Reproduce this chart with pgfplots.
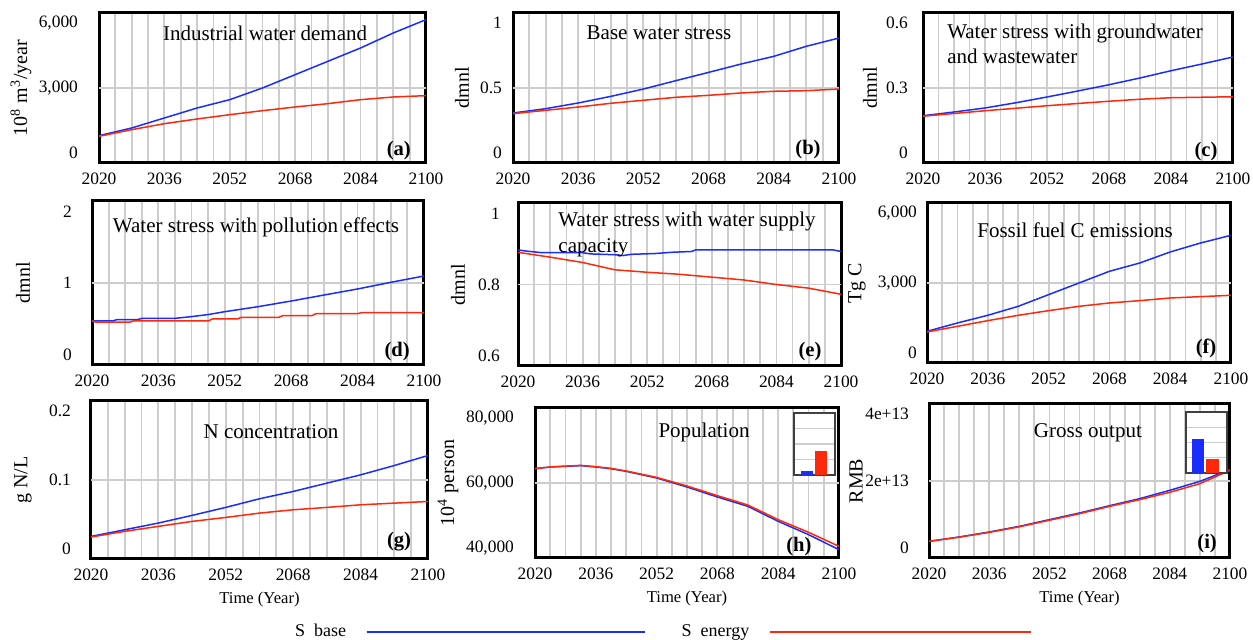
\documentclass[border=0pt]{standalone}
\usepackage{pgfplots}
\pgfplotsset{compat=1.18}
\usepackage{fontspec}
\setmainfont{Liberation Serif}

\definecolor{sbase}{RGB}{25,45,255}
\definecolor{senergy}{RGB}{255,40,10}
\definecolor{gridc}{RGB}{205,205,205}

\tikzset{
  ttl/.style={font=\fontsize{10.5}{12.6}\selectfont, inner sep=0pt},
  lett/.style={font=\bfseries\fontsize{10.3}{12}\selectfont, inner sep=0pt},
}

\pgfplotsset{
  panel/.style={
    scale only axis,
    axis line style={line width=1.5pt},
    xmin=2020, xmax=2100,
    xtick={2020,2036,2052,2068,2084,2100},
    xticklabels={2020,2036,2052,2068,2084,2100},
    minor xtick={2024,2028,...,2096},
    xmajorgrids, xminorgrids,
    major grid style={gridc, line width=0.9pt},
    minor grid style={gridc, line width=0.9pt},
    major tick length=0pt, minor tick length=0pt,
    scaled y ticks=false,
    tick label style={font=\fontsize{8.7}{10}\selectfont},
    xticklabel style={yshift=-1.5pt},
    y label style={font=\fontsize{10}{12}\selectfont, anchor=center, at={(axis description cs:0,0.5)}},
    x label style={font=\fontsize{8.3}{10}\selectfont, at={(axis description cs:0.5,0)}, anchor=north, yshift=-13pt},
    extra y tick labels={},
    extra y tick style={grid=major},
  },
  sb/.style={sbase, line width=0.75pt},
  se/.style={senergy, line width=0.75pt},
  lgb/.style={legend image code/.code={\draw[##1] (0pt,0pt) -- (139pt,0pt);}},
  lge/.style={legend image code/.code={\draw[##1] (0pt,0pt) -- (130.5pt,0pt);}},
  inset/.style={
    scale only axis,
    xmin=0, xmax=1, ymin=0, ymax=4,
    xtick=\empty, ytick={1,2,3}, yticklabels={},
    ymajorgrids, major grid style={gridc, line width=0.6pt},
    major tick length=0pt,
    axis line style={line width=0.6pt, black!75},
    axis background/.style={fill=white},
  },
}

\begin{document}
\begin{tikzpicture}
\path[use as bounding box] (0,0) rectangle (626.5pt,320pt);

% (a)
\begin{axis}[panel, at={(49.5pt,238.5pt)}, anchor=south west, width=163.5pt, height=75pt,
  ymin=0, ymax=6000, ytick={390,3000,5610}, yticklabels={0,{3,000},{6,000}},
  extra y ticks={3000}, yticklabel style={xshift=-7pt},
  ylabel={10\textsuperscript{8} m\textsuperscript{3}/year},
  y label style={yshift=39pt}]
\addplot[sb] coordinates {(2020,1093)(2028,1400)(2036,1800)(2044,2200)(2052,2533)(2060,3000)(2068,3533)(2076,4067)(2084,4600)(2092,5200)(2100,5733)};
\addplot[se] coordinates {(2020,1067)(2028,1333)(2036,1573)(2044,1760)(2052,1933)(2060,2093)(2068,2240)(2076,2373)(2084,2533)(2092,2640)(2100,2693)};
\node[ttl] at (rel axis cs:0.508,0.867) {Industrial water demand};
\node[lett] at (rel axis cs:0.917,0.08) {(a)};
\end{axis}

% (b)
\begin{axis}[panel, at={(256.5pt,238.5pt)}, anchor=south west, width=163pt, height=75pt,
  ymin=0, ymax=1, ytick={0.065,0.5,0.935}, yticklabels={0,0.5,1},
  extra y ticks={0.5}, yticklabel style={xshift=-2pt},
  ylabel={dmnl},
  y label style={yshift=25.5pt}]
\addplot[sb] coordinates {(2020,0.333)(2028,0.362)(2036,0.400)(2044,0.444)(2052,0.493)(2060,0.549)(2068,0.604)(2076,0.660)(2084,0.711)(2092,0.778)(2100,0.833)};
\addplot[se] coordinates {(2020,0.329)(2028,0.351)(2036,0.373)(2044,0.398)(2052,0.418)(2060,0.438)(2068,0.451)(2076,0.467)(2084,0.478)(2092,0.482)(2100,0.493)};
\node[ttl] at (rel axis cs:0.448,0.867) {Base water stress};
\node[lett] at (rel axis cs:0.905,0.087) {(b)};
\end{axis}

% (c)
\begin{axis}[panel, at={(461.5pt,238.5pt)}, anchor=south west, width=155pt, height=75pt,
  ymin=0, ymax=0.6, ytick={0.039,0.3,0.561}, yticklabels={0,0.3,0.6},
  extra y ticks={0.3}, yticklabel style={xshift=-4pt},
  ylabel={dmnl},
  y label style={yshift=26.5pt}]
\addplot[sb] coordinates {(2020,0.189)(2028,0.204)(2036,0.220)(2044,0.241)(2052,0.264)(2060,0.288)(2068,0.313)(2076,0.340)(2084,0.369)(2092,0.396)(2100,0.424)};
\addplot[se] coordinates {(2020,0.187)(2028,0.198)(2036,0.209)(2044,0.219)(2052,0.229)(2060,0.238)(2068,0.247)(2076,0.255)(2084,0.261)(2092,0.263)(2100,0.265)};
\node[ttl, anchor=north west, align=left] at (rel axis cs:0.077,0.93) {Water stress with groundwater\\and wastewater};
\node[lett] at (rel axis cs:0.913,0.073) {(c)};
\end{axis}

% (d)
\begin{axis}[panel, at={(46pt,137.5pt)}, anchor=south west, width=166pt, height=82pt,
  ymin=0, ymax=2, ytick={0.13,1,1.87}, yticklabels={0,1,2},
  extra y ticks={1}, yticklabel style={xshift=-6.5pt},
  ylabel={dmnl},
  y label style={yshift=34.5pt}]
\addplot[sb] coordinates {(2020,0.537)(2025,0.537)(2026,0.553)(2031,0.553)(2032,0.569)(2040,0.569)(2044,0.590)(2048,0.615)(2052,0.650)(2060,0.711)(2068,0.780)(2076,0.854)(2084,0.927)(2092,1.008)(2100,1.085)};
\addplot[se] coordinates {(2020,0.537)(2021,0.522)(2029,0.522)(2030,0.537)(2048,0.537)(2049,0.561)(2055,0.561)(2056,0.581)(2065,0.581)(2066,0.602)(2073,0.602)(2074,0.626)(2084,0.626)(2085,0.638)(2100,0.638)};
\node[ttl] at (rel axis cs:0.494,0.841) {Water stress with pollution effects};
\node[lett] at (rel axis cs:0.919,0.079) {(d)};
\end{axis}

% (e)
\begin{axis}[panel, at={(259pt,137pt)}, anchor=south west, width=161.5pt, height=81.5pt,
  ymin=0.6, ymax=1, ytick={0.626,0.8,0.974}, yticklabels={0.6,0.8,1},
  extra y ticks={0.8}, yticklabel style={xshift=-5.5pt},
  ylabel={dmnl},
  y label style={yshift=30pt}]
\addplot[sb] coordinates {(2020,0.885)(2022,0.882)(2026,0.878)(2036,0.878)(2038,0.875)(2044,0.873)(2046,0.871)(2048,0.874)(2054,0.876)(2058,0.879)(2063,0.881)(2064,0.885)(2098,0.885)(2100,0.881)};
\addplot[se] coordinates {(2020,0.879)(2028,0.867)(2036,0.854)(2044,0.836)(2052,0.830)(2060,0.825)(2068,0.818)(2076,0.811)(2084,0.800)(2092,0.791)(2100,0.776)};
\node[ttl, anchor=north west, align=left] at (rel axis cs:0.124,0.945) {Water stress with water supply\\capacity};
\node[lett] at (rel axis cs:0.904,0.086) {(e)};
\end{axis}

% (f)
\begin{axis}[panel, at={(463.5pt,138.5pt)}, anchor=south west, width=152pt, height=80pt,
  ymin=0, ymax=6000, ytick={390,3000,5610}, yticklabels={0,{3,000},{6,000}},
  extra y ticks={3000}, yticklabel style={xshift=-1.5pt},
  ylabel={Tg C},
  y label style={yshift=35pt}]
\addplot[sb] coordinates {(2020,1188)(2028,1500)(2036,1788)(2044,2125)(2052,2563)(2060,3000)(2068,3438)(2076,3750)(2084,4163)(2092,4500)(2100,4788)};
\addplot[se] coordinates {(2020,1163)(2028,1375)(2036,1588)(2044,1788)(2052,1963)(2060,2125)(2068,2250)(2076,2338)(2084,2438)(2092,2488)(2100,2538)};
\node[ttl] at (rel axis cs:0.487,0.831) {Fossil fuel C emissions};
\node[lett] at (rel axis cs:0.918,0.094) {(f)};
\end{axis}

% (g)
\begin{axis}[panel, at={(45.5pt,40.5pt)}, anchor=south west, width=168.5pt, height=79pt,
  ymin=0, ymax=0.2, ytick={0.013,0.1,0.187}, yticklabels={0,0.1,0.2},
  extra y ticks={0.1}, yticklabel style={xshift=-6.5pt},
  xlabel={Time (Year)},
  ylabel={g N/L},
  y label style={yshift=34pt}]
\addplot[sb] coordinates {(2020,0.0286)(2028,0.0370)(2036,0.0455)(2044,0.0552)(2052,0.0653)(2060,0.0762)(2068,0.0855)(2076,0.0960)(2084,0.1065)(2092,0.1183)(2100,0.1310)};
\addplot[se] coordinates {(2020,0.0278)(2028,0.0350)(2036,0.0413)(2044,0.0476)(2052,0.0526)(2060,0.0581)(2068,0.0623)(2076,0.0653)(2084,0.0686)(2092,0.0707)(2100,0.0728)};
\node[ttl] at (rel axis cs:0.534,0.804) {N concentration};
\node[lett] at (rel axis cs:0.914,0.108) {(g)};
\end{axis}

% (h)
\begin{axis}[panel, at={(267.5pt,41pt)}, anchor=south west, width=152pt, height=75pt,
  ymin=40000, ymax=80000, ytick={42600,60000,77400}, yticklabels={{40,000},{60,000},{80,000}},
  extra y ticks={60000}, yticklabel style={xshift=-7pt},
  xlabel={Time (Year)},
  ylabel={10\textsuperscript{4} person},
  y label style={yshift=43.5pt},
  legend columns=2, legend plot pos=right,
  legend style={at={(-0.823,-0.495)}, anchor=west, draw=none, fill=none,
    font=\fontsize{9}{10}\selectfont,
    /tikz/column sep=8pt,
    /tikz/every even column/.append style={column sep=16pt}}]
\addplot[sb, lgb] coordinates {(2020,63822)(2024,64267)(2028,64444)(2032,64622)(2036,64267)(2040,63800)(2044,63111)(2052,61333)(2060,58933)(2068,56267)(2076,53778)(2084,49778)(2092,46222)(2100,42222)};
\addplot[se, lge] coordinates {(2020,63822)(2024,64267)(2028,64500)(2032,64700)(2036,64350)(2040,63900)(2044,63200)(2052,61500)(2060,59200)(2068,56622)(2076,54133)(2084,50222)(2092,46844)(2100,43111)};
\legend{S\enspace base, S\enspace energy}
\node[ttl] at (rel axis cs:0.556,0.84) {Population};
\node[lett] at (rel axis cs:0.868,0.073) {(h)};
\end{axis}
\begin{axis}[inset, at={(397pt,82.5pt)}, anchor=south west, width=20.5pt, height=31pt]
\addplot[ybar, bar width=6pt, bar shift=0pt, fill=sbase, draw=none] coordinates {(0.317,0.26)};
\addplot[ybar, bar width=6pt, bar shift=0pt, fill=senergy, draw=none] coordinates {(0.659,1.55)};
\end{axis}

% (i)
\begin{axis}[panel, at={(464.5pt,41pt)}, anchor=south west, width=150.5pt, height=77pt,
  ymin=0, ymax=4, ytick={0.26,2,3.74}, yticklabels={0,2e+13,4e+13},
  extra y ticks={2}, yticklabel style={xshift=-6.5pt},
  xlabel={Time (Year)},
  ylabel={RMB},
  y label style={yshift=36.5pt}]
\addplot[sb] coordinates {(2020,0.433)(2028,0.545)(2036,0.675)(2044,0.822)(2052,0.996)(2060,1.169)(2068,1.359)(2076,1.541)(2084,1.758)(2092,1.991)(2100,2.294)};
\addplot[se] coordinates {(2020,0.433)(2028,0.540)(2036,0.665)(2044,0.810)(2052,0.980)(2060,1.150)(2068,1.340)(2076,1.515)(2084,1.706)(2092,1.931)(2100,2.277)};
\node[ttl] at (rel axis cs:0.528,0.812) {Gross output};
\node[lett] at (rel axis cs:0.924,0.097) {(i)};
\end{axis}
\begin{axis}[inset, at={(593pt,83.5pt)}, anchor=south west, width=20.5pt, height=30.5pt]
\addplot[ybar, bar width=6pt, bar shift=0pt, fill=sbase, draw=none] coordinates {(0.293,2.2)};
\addplot[ybar, bar width=6.5pt, bar shift=0pt, fill=senergy, draw=none] coordinates {(0.65,0.9)};
\end{axis}

\end{tikzpicture}
\end{document}
